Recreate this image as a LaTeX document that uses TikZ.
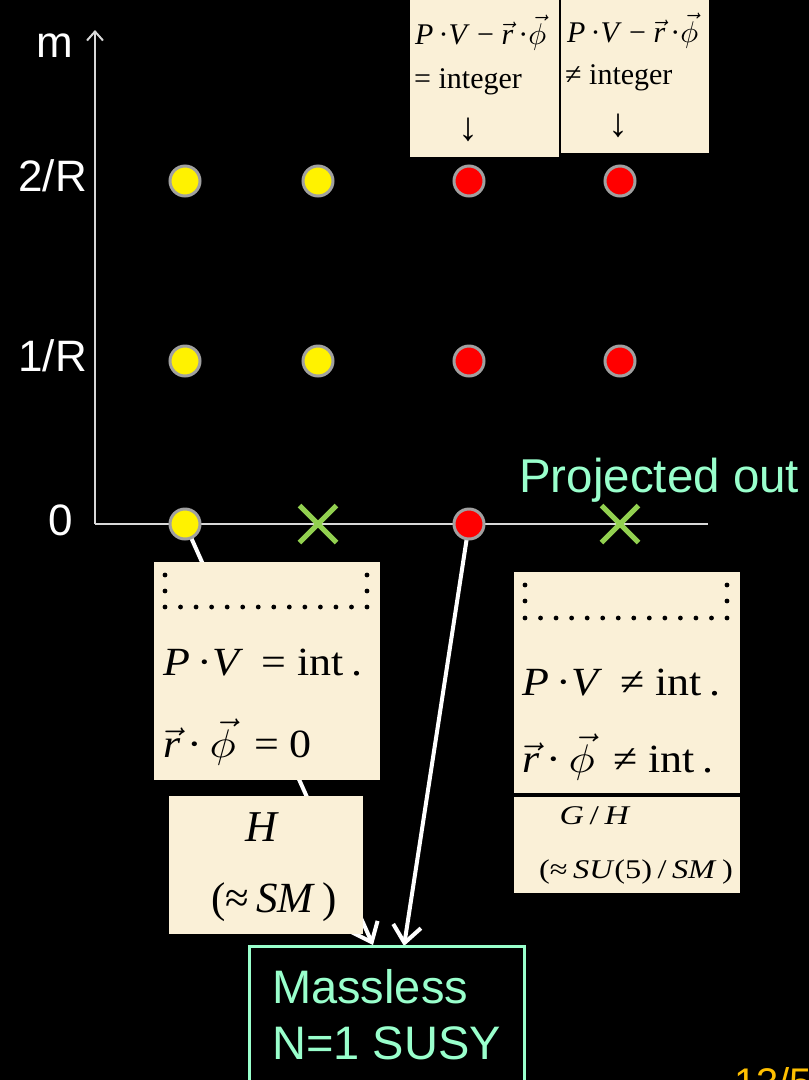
\documentclass[tikz,border=0pt]{standalone}
\usepackage{fontspec}
\usepackage{graphicx}
\setmainfont{Liberation Serif}
\newfontfamily\arial{Liberation Sans}
\usetikzlibrary{arrows.meta,shapes.misc}
\definecolor{beige}{HTML}{FAF0D7}
\definecolor{aqua}{HTML}{99FFCC}
\definecolor{xgreen}{HTML}{92D050}
\definecolor{dotgray}{HTML}{A0A0A0}
\definecolor{axisgray}{HTML}{D9D9D9}
\definecolor{slidenum}{HTML}{FFC000}
\makeatletter
\newcommand{\mathscaled}[1]{\scalebox{\strip@pt\dimexpr\f@size pt*10/100\relax}{\fontsize{10}{12}\selectfont$#1$}}
\makeatother
\newcommand{\myvr}{\mathscaled{\vec{\hbox{\itshape r}}}}
\newcommand{\myvphi}{\mathscaled{\vec{\phi}}}
\newcommand{\hs}[2]{\scalebox{#1}[1]{#2}}
\tikzset{
  paper/.style={fill=beige, draw=none, inner sep=0pt, anchor=north west},
  ydot/.style={circle, fill=yellow, draw=dotgray, line width=3pt, minimum size=30pt, inner sep=0pt},
  rdot/.style={circle, fill=red, draw=dotgray, line width=3pt, minimum size=30pt, inner sep=0pt},
  xmark/.style={cross out, draw=xgreen, line width=5pt, minimum size=32pt, inner sep=0pt},
  warrow/.style={white, line width=4pt, -{Straight Barb[length=17pt,width=28pt]}},
  axis/.style={axisgray, line width=2pt},
  axlabel/.style={white, inner sep=0pt, font=\arial\fontsize{44}{50}\selectfont},
  eqsmall/.style={black, inner sep=0pt, font=\fontsize{30}{36}\selectfont},
  eqbig/.style={black, inner sep=0pt, font=\fontsize{40}{46}\selectfont},
  eqmid/.style={black, inner sep=0pt, font=\fontsize{27}{32}\selectfont},
  aquatext/.style={aqua, font=\arial\fontsize{47.5}{56}\selectfont},
}
\begin{document}
\begin{tikzpicture}[x=1pt,y=-1pt]
\fill[black] (0,0) rectangle (809,1080);
\useasboundingbox (0,0) rectangle (809,1080);

% axes
\coordinate (O) at (95,524);
\coordinate (mtop) at (95,30);
\coordinate (xend) at (708,524);
\draw[axis, -{Straight Barb[length=9pt,width=16pt,line width=2pt]}] (O) -- (mtop);
\draw[axis] (O) -- (xend);
\node[axlabel, anchor=base east] (lm) at (73,57) {m};
\node[axlabel, anchor=base east] (l2) at (87,191) {2/R};
\node[axlabel, anchor=base east] (l1) at (87,371) {1/R};
\node[axlabel, anchor=base east] (l0) at (73,535) {0};

% arrow targets
\coordinate (t1) at (373,945);
\coordinate (t2) at (404,946);

% dot anchors (for arrows)
\coordinate (c00) at (185,524);
\coordinate (c20) at (469,524);
\draw[warrow] (c00) -- (t1);

% boxes
\node[paper, minimum width=149pt, minimum height=160pt] (boxA) at (410,-3) {};
\node[paper, minimum width=148pt, minimum height=156pt] (boxB) at (561,-3) {};
\node[paper, minimum width=226pt, minimum height=218pt] (boxL) at (154,562) {};
\node[paper, minimum width=194pt, minimum height=138pt] (boxH) at (169,796) {};
\node[paper, minimum width=226pt, minimum height=221pt] (boxR) at (514,572) {};
\node[paper, minimum width=226pt, minimum height=96pt] (boxG) at (514,797) {};

\draw[warrow] (c20) -- (t2);

% dots
\foreach \x/\n in {185/0,318/1}{
  \node[ydot] (y\n a) at (\x,181) {};
  \node[ydot] (y\n b) at (\x,361) {};
}
\foreach \x/\n in {469/2,620/3}{
  \node[rdot] (r\n a) at (\x,181) {};
  \node[rdot] (r\n b) at (\x,361) {};
}
\node[ydot] (y0c) at (c00) {};
\node[xmark] (x1c) at (318,524) {};
\node[rdot] (r2c) at (c20) {};
\node[xmark] (x3c) at (620,524) {};

\node[aquatext, anchor=base west, inner sep=0pt] (proj) at (519,492) {Projected out};

% top box texts
\node[eqsmall, anchor=west] (a1) at (415,33) {\textit{P}\,·\textit{V} − \myvr\,·\myvphi};
\node[eqsmall, anchor=west] (a2) at (414,82) {= integer};
\node[black, inner sep=0pt, font=\fontsize{40}{44}\selectfont] (a3) at (468,130) {↓};
\node[eqsmall, anchor=west] (b1) at (567,31) {\textit{P}\,·\textit{V} − \myvr\,·\myvphi};
\node[eqsmall, anchor=west] (b2) at (565,78) {≠ integer};
\node[black, inner sep=0pt, font=\fontsize{40}{44}\selectfont] (b3) at (618,126) {↓};

% dotted patterns
\foreach \yy in {575,591}{\fill (165,\yy) circle (2.4); \fill (367,\yy) circle (2.4);}
\foreach \i in {0,...,13}{\fill ({165+\i*15.54},607) circle (2.4);}
\foreach \yy in {585,601}{\fill (525,\yy) circle (2.4); \fill (727,\yy) circle (2.4);}
\foreach \i in {0,...,13}{\fill ({525+\i*15.54},618) circle (2.4);}

% left box texts
\node[eqbig, anchor=west] (l1t) at (163,663) {\hs{1.1}{\textit{P}\,·\textit{V}\, = int\,.}};
\node[eqbig, anchor=west] (l2t) at (163,742) {\hs{1.1}{\myvr\,·\,\myvphi\, = 0}};
% right box texts
\node[eqbig, anchor=west] (r1t) at (522,683) {\hs{1.1}{\textit{P}\,·\textit{V}\, ≠ int\,.}};
\node[eqbig, anchor=west] (r2t) at (522,757) {\hs{1.1}{\myvr\,·\,\myvphi\, ≠ int\,.}};
% H box
\node[black, inner sep=0pt, font=\fontsize{44}{50}\selectfont] (ht) at (262,827) {\textit{H}};
\node[black, inner sep=0pt, font=\fontsize{43}{50}\selectfont] (hsm) at (274,902) {(≈\,\textit{SM}\,)};
% G/H box
\node[eqmid] (gh) at (595,816) {\hs{1.25}{\textit{G}\,/\,\textit{H}}};
\node[eqmid] (gsu) at (636,872) {\hs{1.2}{(≈\,\textit{SU}(5)\,/\,\textit{SM}\,)}};

% massless box
\node[draw=aqua, line width=3pt, anchor=north west, align=left, text=aqua,
      font=\arial\fontsize{47}{56}\selectfont, inner xsep=14pt, inner ysep=23pt,
      minimum width=275pt, outer sep=0pt] (mass) at (249,946) {Massless\\N=1 SUSY};

% slide number (cut off)
\node[slidenum, anchor=north west, inner sep=0pt, font=\arial\fontsize{40}{48}\selectfont] (snum) at (734,1067) {13/5};
\end{tikzpicture}
\end{document}
